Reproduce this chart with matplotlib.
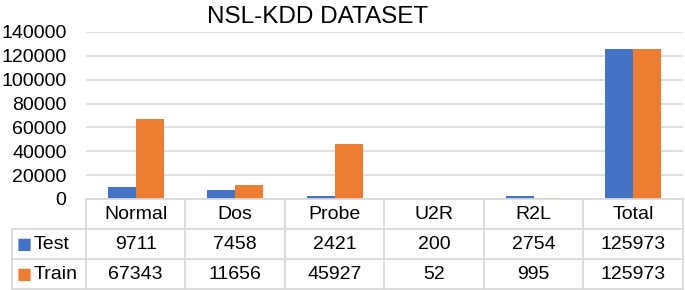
import numpy as np
import matplotlib
matplotlib.use("Agg")
import matplotlib.pyplot as plt

plt.rcParams['font.family'] = ['Liberation Sans', 'DejaVu Sans']

categories = ["Normal", "Dos", "Probe", "U2R", "R2L", "Total"]
test = [9711, 7458, 2421, 200, 2754, 125973]
train = [67343, 11656, 45927, 52, 995, 125973]
series = [("Test", test, "#4472C4"), ("Train", train, "#ED7D31")]
yticks = [0, 20000, 40000, 60000, 80000, 100000, 120000, 140000]

grid_c = "#D9D9D9"
fs = 14

fig = plt.figure(figsize=(6.85, 2.9), dpi=100)
ax = fig.add_axes([0.1255, 0.3138, 0.8715, 0.5759])
x = np.arange(len(categories))
w = 0.28
ax.bar(x - w / 2, test, w, color=series[0][2], zorder=3)
ax.bar(x + w / 2, train, w, color=series[1][2], zorder=3)
ax.set_xlim(-0.5, len(categories) - 0.5)
ax.set_ylim(0, 140000)
ax.set_yticks(yticks)
ax.set_yticklabels([str(v) for v in yticks], fontsize=fs)
ax.set_xticks([])
ax.tick_params(axis='y', length=0, pad=14)
ax.grid(axis='y', color=grid_c, linewidth=1.2, zorder=0)
for s in ax.spines.values():
    s.set_visible(False)
fig.text(0.463, 0.921, "NSL-KDD DATASET", fontsize=17.5, ha='center', va='baseline')

# data table below the plot
tax = fig.add_axes([0.1255, 0.003, 0.8715, 0.3108])
tax.set_xlim(-0.5, len(categories) - 0.5)
tax.set_ylim(3, 0)
tax.axis('off')
xl = -0.5 - 74 / 99.5
lw = 1.3
tax.plot([-0.5, len(categories) - 0.5], [0, 0], color=grid_c, lw=lw, clip_on=False)
for yy in [1, 2, 3]:
    tax.plot([xl, len(categories) - 0.5], [yy, yy], color=grid_c, lw=lw, clip_on=False)
tax.plot([xl, xl], [1, 3], color=grid_c, lw=lw, clip_on=False)
for k in range(len(categories) + 1):
    tax.plot([k - 0.5] * 2, [0, 3], color=grid_c, lw=lw, clip_on=False)

for i, c in enumerate(categories):
    tax.text(i, 0.5, c, ha='center', va='center', fontsize=fs)
for r, (name, vals, col) in enumerate(series, start=1):
    tax.text(xl + 0.05, r + 0.5, "\u25A0", color=col, ha='left', va='center',
             fontsize=11.5, family=['DejaVu Sans'])
    tax.text(xl + 0.215, r + 0.5, name, ha='left', va='center', fontsize=fs)
    for i, v in enumerate(vals):
        tax.text(i, r + 0.5, str(v), ha='center', va='center', fontsize=fs)

fig.savefig("out.png", dpi=100)
